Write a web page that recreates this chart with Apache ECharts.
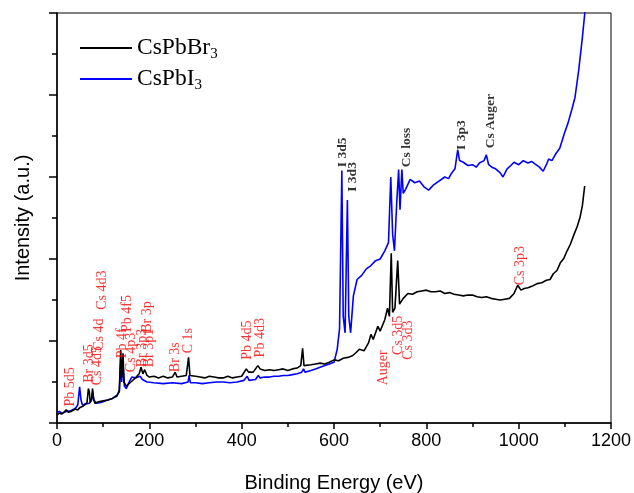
<!DOCTYPE html>
<html><head><meta charset="utf-8">
<script src="https://cdn.jsdelivr.net/npm/echarts@6/dist/echarts.min.js"></script>
<style>html,body{margin:0;padding:0;background:#fff}#c{width:634px;height:493px}</style>
</head><body><div id="c"></div>
<script>
// Binding energy (eV) and intensity (a.u.) for CsPbBr3 (black)
var brX = [0,5,10,15,20,25,30,40,45,50,55,60,65,68,70,72,75,77,79,82,90,100,110,120,130,135,138,140,143,145,150,160,170,178,182,186,190,195,200,210,220,230,240,250,256,260,270,280,285,288,300,310,320,330,340,350,360,370,380,390,400,410,415,425,435,440,450,460,470,480,490,500,510,520,528,532,535,550,560,570,580,590,600,610,620,630,640,648,655,665,675,680,685,695,700,710,716,720,724,727,732,738,742,750,760,770,780,790,800,810,820,830,840,850,860,870,880,890,900,910,920,930,940,950,960,970,980,990,998,1005,1012,1020,1030,1040,1050,1060,1068,1075,1083,1090,1098,1105,1112,1120,1127,1133,1138,1143];
var brY = [0.10,0.12,0.11,0.13,0.16,0.13,0.14,0.17,0.16,0.19,0.20,0.22,0.25,0.42,0.38,0.25,0.30,0.42,0.30,0.24,0.26,0.27,0.28,0.30,0.33,0.40,0.89,0.55,0.85,0.50,0.45,0.50,0.55,0.60,0.68,0.60,0.65,0.58,0.56,0.57,0.55,0.57,0.55,0.56,0.62,0.56,0.57,0.58,0.80,0.58,0.57,0.56,0.55,0.57,0.56,0.55,0.55,0.57,0.55,0.56,0.57,0.66,0.62,0.62,0.70,0.66,0.64,0.65,0.64,0.65,0.66,0.64,0.66,0.67,0.70,0.91,0.70,0.71,0.72,0.73,0.72,0.74,0.77,0.76,0.79,0.80,0.82,0.86,0.90,0.88,0.98,1.08,1.02,1.18,1.12,1.26,1.40,1.30,2.07,1.35,1.40,1.98,1.45,1.52,1.58,1.57,1.60,1.61,1.62,1.60,1.60,1.61,1.58,1.59,1.57,1.56,1.55,1.56,1.56,1.54,1.53,1.54,1.52,1.51,1.50,1.51,1.52,1.58,1.68,1.62,1.64,1.65,1.67,1.70,1.71,1.74,1.75,1.82,1.86,1.95,2.01,2.10,2.18,2.30,2.40,2.51,2.65,2.89];
// CsPbI3 (blue)
var iX = [0,5,10,20,30,40,45,49,52,55,60,70,75,77,80,85,95,110,120,130,135,138,140,143,146,150,158,162,170,180,185,195,210,230,250,270,284,286,289,300,315,330,345,360,375,390,405,412,416,430,436,440,450,460,470,480,490,500,510,520,530,534,537,550,560,570,580,590,600,607,612,617,620,624,629,632,636,642,650,660,670,680,690,700,710,718,723,727,731,736,740,743,747,750,755,765,775,785,795,805,815,825,840,848,855,862,868,872,880,890,900,908,915,925,930,935,942,950,960,966,975,983,990,1000,1010,1020,1028,1035,1045,1053,1060,1065,1072,1080,1089,1100,1107,1115,1122,1130,1138,1145];
var iY = [0.13,0.14,0.12,0.14,0.15,0.18,0.22,0.44,0.28,0.22,0.23,0.24,0.28,0.38,0.28,0.24,0.25,0.28,0.30,0.34,0.38,0.78,0.50,0.72,0.45,0.42,0.52,0.56,0.55,0.57,0.53,0.50,0.49,0.48,0.49,0.48,0.50,0.58,0.49,0.49,0.48,0.49,0.50,0.50,0.49,0.50,0.52,0.57,0.52,0.53,0.58,0.55,0.56,0.56,0.57,0.57,0.58,0.58,0.59,0.60,0.62,0.66,0.62,0.64,0.66,0.68,0.70,0.72,0.74,0.90,1.15,3.08,1.30,1.10,2.72,1.30,1.10,1.55,1.75,1.80,1.88,1.92,1.98,2.00,2.10,2.20,3.00,2.30,2.10,2.70,3.09,2.60,3.09,2.80,2.85,2.97,2.93,2.95,2.88,2.84,2.90,2.94,3.00,2.98,3.05,3.10,3.33,3.20,3.18,3.14,3.15,3.12,3.17,3.20,3.27,3.15,3.12,3.10,3.05,3.00,3.10,3.14,3.18,3.15,3.20,3.17,3.19,3.16,3.12,3.07,3.15,3.22,3.20,3.28,3.35,3.55,3.66,3.82,3.97,4.30,4.70,5.10];
// Peak annotations: text, energy, intensity at text start
var redNames = ["Pb 5d5","Br 3d5","Cs 4d5","Cs 4d","Cs 4d3","Pb 4f","Pb 4f5","Cs 4p3","Br 3p3","Br 3p","Br 3p1","Br 3s","C 1s","Pb 4d5","Pb 4d3","Auger","Cs 3d5","Cs 3d3","Cs 3p3"];
var redE = [28,69,87,92,99,141,152,160,184,195,201,256,284,412,440,706,739,760,1003];
var redI = [0.20,0.49,0.46,0.88,1.38,0.79,1.11,0.62,0.68,1.10,0.68,0.62,0.85,0.77,0.80,0.46,0.83,0.77,1.68];
var blackNames = ["I 3d5","I 3d3","Cs loss","I 3p3","Cs Auger"];
var blackE = [619,641,758,877,938];
var blackI = [3.12,2.82,3.12,3.33,3.35];
var xTicks = [0,200,400,600,800,1000,1200];

function zip(a,b){return a.map(function(v,i){return [v,b[i]];});}
function ann(n,e,v){return n.map(function(t,i){return [e[i],v[i],t];});}

var chart = echarts.init(document.getElementById('c'));
var serif = "'Liberation Serif','Times New Roman',serif";
var sans = "'Liberation Sans',Arial,sans-serif";
chart.setOption({
  animation:false,
  backgroundColor:'#fff',
  grid:{left:57,right:23,top:13,bottom:70,show:true,borderColor:'#000',borderWidth:1,backgroundColor:'transparent',outerBoundsMode:'none',containLabel:false},
  legend:{
    data:['CsPbBr3','CsPbI3'],orient:'vertical',left:74,top:31,itemWidth:52,itemHeight:14,itemGap:5,
    itemStyle:{color:'rgba(0,0,0,0)',borderColor:'rgba(0,0,0,0)',borderWidth:0},
    formatter:function(n){return n.replace(/(\d)$/,'{sub|$1}');},
    textStyle:{fontFamily:serif,fontSize:23.5,color:'#000',
      rich:{sub:{fontFamily:serif,fontSize:15,color:'#000',padding:[13,0,0,0]}}}
  },
  xAxis:{type:'value',min:xTicks[0],max:xTicks[xTicks.length-1],interval:200,
    name:'Binding Energy (eV)',nameLocation:'middle',nameGap:50,
    nameTextStyle:{fontFamily:sans,fontSize:20,color:'#000'},
    axisLine:{lineStyle:{color:'#000',width:1.5}},
    axisTick:{show:true,inside:false,length:6,lineStyle:{color:'#000',width:1.5}},
    minorTick:{show:true,splitNumber:2,length:4,lineStyle:{color:'#000',width:1.5}},
    axisLabel:{fontFamily:sans,fontSize:18,color:'#000',margin:9,formatter:function(v){return String(v);}},
    splitLine:{show:false}},
  yAxis:{type:'value',min:0,max:5,interval:1,
    name:'Intensity (a.u.)',nameLocation:'middle',nameGap:24,
    nameTextStyle:{fontFamily:sans,fontSize:20,color:'#000'},
    axisLine:{show:true,lineStyle:{color:'#000',width:1.5}},
    axisTick:{show:true,inside:false,length:8,lineStyle:{color:'#000',width:1.5}},
    minorTick:{show:true,splitNumber:2,length:5,lineStyle:{color:'#000',width:1.5}},
    axisLabel:{show:false},splitLine:{show:false}},
  series:[
    {name:'CsPbBr3',type:'line',data:zip(brX,brY),symbol:'none',lineStyle:{color:'#000',width:1.6},itemStyle:{color:'#000'},z:3},
    {name:'CsPbI3',type:'line',data:zip(iX,iY),symbol:'none',lineStyle:{color:'#0000ff',width:1.6},itemStyle:{color:'#0000ff'},z:2},
    {name:'redAnn',type:'scatter',data:ann(redNames,redE,redI),symbolSize:1,itemStyle:{color:'rgba(0,0,0,0)'},z:5,silent:true,
      label:{show:true,position:'inside',rotate:90,align:'left',verticalAlign:'middle',
        formatter:function(p){return p.data[2];},fontFamily:serif,fontSize:14,color:'#ff0000'}},
    {name:'blackAnn',type:'scatter',data:ann(blackNames,blackE,blackI),symbolSize:1,itemStyle:{color:'rgba(0,0,0,0)'},z:5,silent:true,
      label:{show:true,position:'inside',rotate:90,align:'left',verticalAlign:'middle',
        formatter:function(p){return p.data[2];},fontFamily:serif,fontSize:13.5,fontWeight:'bold',color:'#000'}}
  ]
});
</script></body></html>
